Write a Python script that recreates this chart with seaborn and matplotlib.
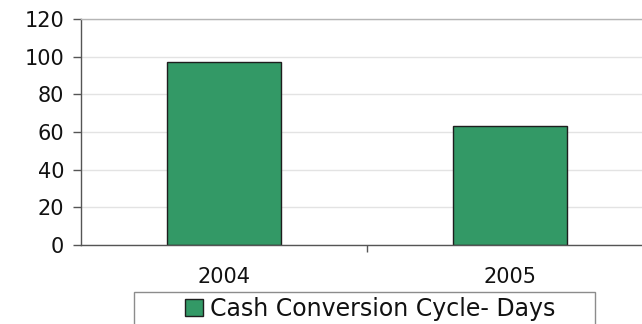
import matplotlib
matplotlib.use("Agg")
import matplotlib.pyplot as plt
from matplotlib.patches import Rectangle
import seaborn as sns
import pandas as pd

years = ["2004", "2005"]
days = [97, 63]
series_name = "Cash Conversion Cycle- Days"
y_ticks = [0, 20, 40, 60, 80, 100, 120]

df = pd.DataFrame({"Year": years, "Days": days, "Series": [series_name] * len(years)})

sns.set_theme(style="white")
plt.rcParams["font.family"] = ["DejaVu Sans"]

W, H = 642, 324
fig = plt.figure(figsize=(W / 100, H / 100), dpi=100)
# plot area runs past the right edge of the canvas
ax = fig.add_axes([81 / W, 1 - 245 / H, 572 / W, 226 / H])

green = "#339966"
edge = "#1e1e1e"
sns.barplot(data=df, x="Year", y="Days", hue="Series", palette=[green],
            saturation=1, width=0.40, edgecolor=edge, linewidth=1.0, ax=ax,
            legend=False)

ax.set_ylim(0, 120)
ax.set_yticks(y_ticks)
ax.set_xlim(-0.5, 1.5)
ax.yaxis.grid(True, color="#e3e3e3", linewidth=1.0)
ax.set_axisbelow(True)
ax.set_xlabel("")
ax.set_ylabel("")

ax.spines["right"].set_visible(False)
ax.spines["top"].set_color("#b5b5b5")
ax.spines["left"].set_color("#555555")
ax.spines["bottom"].set_color("#555555")
for s in ["left", "bottom", "top"]:
    ax.spines[s].set_linewidth(1.0)

ax.tick_params(axis="y", which="both", left=True, length=6, width=1,
               color="#555555", pad=6, labelsize=15, labelcolor="#111111")
ax.set_xticks([0, 1])
ax.set_xticklabels(years)
ax.tick_params(axis="x", bottom=False, pad=10, labelsize=15, labelcolor="#111111")
ax.set_xticks([0.5], minor=True)
ax.tick_params(axis="x", which="minor", bottom=True, length=5, width=1,
               color="#555555")

# legend box along the bottom edge
fig.patches.append(Rectangle((134 / W, -0.05), (595 - 134) / W, 0.05 + (324 - 292) / H,
                             transform=fig.transFigure, facecolor="white",
                             edgecolor="#8c8c8c", linewidth=1.0, zorder=1))
handle = Rectangle((0, 0), 1, 1, facecolor=green, edgecolor=edge, linewidth=1.0)
leg = fig.legend([handle], [series_name], loc="center",
                 bbox_to_anchor=(370 / W, 1 - 309 / H), frameon=False,
                 fontsize=17, handlelength=0.75, handleheight=0.75,
                 handletextpad=0.3, borderpad=0, borderaxespad=0,
                 labelcolor="#111111")
leg.set_zorder(2)

fig.savefig("out.png", dpi=100)
